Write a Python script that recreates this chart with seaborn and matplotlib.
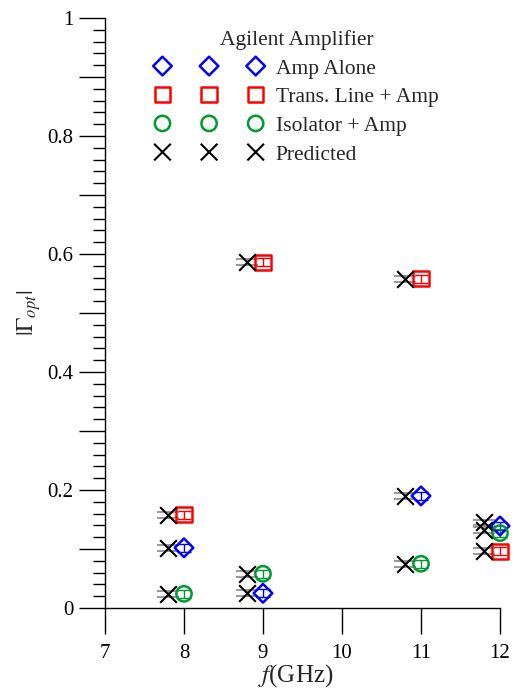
import matplotlib
matplotlib.use("Agg")
import matplotlib.pyplot as plt
import seaborn as sns
import numpy as np
import pandas as pd
from matplotlib.ticker import MultipleLocator, FixedLocator, FixedFormatter

# ---- data ----
freq_meas = [8, 9, 11, 12]
freq_pred = [7.8, 8.8, 10.8, 11.8]

amp_alone = [0.102, 0.025, 0.190, 0.139]
trans_line = [0.158, 0.586, 0.558, 0.096]
isolator = [0.024, 0.058, 0.075, 0.127]

pred_amp = [0.102, 0.025, 0.190, 0.145]
pred_trans = [0.158, 0.586, 0.558, 0.096]
pred_iso = [0.024, 0.058, 0.075, 0.132]

meas_err = 0.007
pred_err = 0.005

y_ticks_major = [0, 0.1, 0.2, 0.3, 0.4, 0.5, 0.6, 0.7, 0.8, 0.9, 1.0]
y_tick_labels = ["0", "", "0.2", "", "0.4", "", "0.6", "", "0.8", "", "1"]
x_ticks = [7, 8, 9, 10, 11, 12]

sns.set_style("ticks")
plt.rcParams["font.family"] = ["Liberation Serif", "DejaVu Serif"]
plt.rcParams["mathtext.fontset"] = "stix"

fig = plt.figure(figsize=(5.16, 6.92), dpi=100)
ax = fig.add_axes([105 / 516, 1 - 608 / 692, 395 / 516, 590 / 692])

series = [
    ("Amp Alone", amp_alone, "D", "#0000ff", 9.5),
    ("Trans. Line + Amp", trans_line, "s", "#ff0000", 11),
    ("Isolator + Amp", isolator, "o", "#009a2e", 11),
]

for label, vals, mk, col, ms in series:
    df = pd.DataFrame({"f": freq_meas, "g": vals})
    eb = ax.errorbar(df["f"], df["g"], yerr=meas_err, fmt="none", ecolor=col,
                     elinewidth=1.0, capsize=5, capthick=1.0, zorder=2)
    for art in eb.lines[1] + eb.lines[2]:
        art.set_clip_on(False)
    sns.scatterplot(data=df, x="f", y="g", marker=mk, s=ms ** 2,
                    facecolors="none", edgecolor=col, linewidth=1.8,
                    ax=ax, zorder=3, label=label, clip_on=False)

pred_all = pred_amp + pred_trans + pred_iso
f_all = freq_pred * 3
dfp = pd.DataFrame({"f": f_all, "g": pred_all})
ax.errorbar(dfp["f"], dfp["g"], yerr=pred_err, fmt="none", ecolor="#888888",
            elinewidth=1.0, capsize=8, capthick=1.2, zorder=2)
sns.scatterplot(data=dfp, x="f", y="g", marker="x", s=12 ** 2, color="black",
                linewidth=1.5, ax=ax, zorder=3, label="Predicted", clip_on=False)

ax.set_xlim(7, 12)
ax.set_ylim(0, 1)
ax.xaxis.set_major_locator(FixedLocator(x_ticks))
ax.yaxis.set_major_locator(FixedLocator(y_ticks_major))
ax.yaxis.set_major_formatter(FixedFormatter(y_tick_labels))
ax.yaxis.set_minor_locator(MultipleLocator(0.02))
ax.tick_params(axis="both", which="major", direction="out", length=19,
               width=1.0, labelsize=15, color="black", labelcolor="black")
ax.tick_params(axis="y", which="minor", direction="out", length=9, width=1.0,
               color="black")
ax.tick_params(axis="x", which="major", pad=7)
for s in ["top", "right"]:
    ax.spines[s].set_visible(False)
for s in ["left", "bottom"]:
    ax.spines[s].set_color("black")
    ax.spines[s].set_linewidth(1.0)

ax.set_xlabel(r"$f$(GHz)", fontsize=18, labelpad=-1)
ax.xaxis.label.set_x(0.482)
ax.set_ylabel(r"$|\Gamma_{opt}|$", fontsize=17, labelpad=3)

h, l = ax.get_legend_handles_labels()
leg = ax.legend(h, l, title="Agilent Amplifier", scatterpoints=3,
                scatteryoffsets=[0.5],
                loc="upper left", bbox_to_anchor=(156 / 516, 1 - 30 / 692),
                bbox_transform=fig.transFigure, borderaxespad=0, borderpad=0,
                frameon=False,
                fontsize=15.5, title_fontsize=15.5, handlelength=4.93,
                handletextpad=0.63, labelspacing=0.4)

fig.savefig("out.png", dpi=100)
